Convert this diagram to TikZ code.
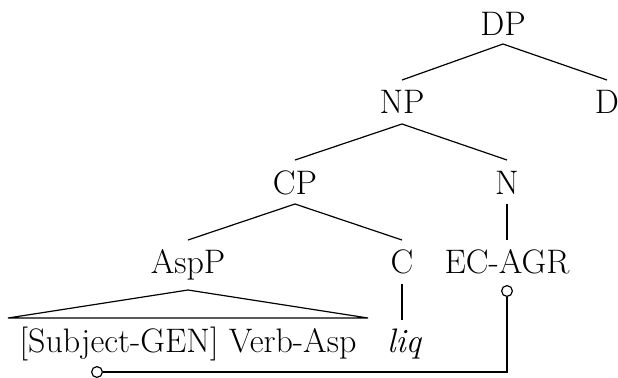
\documentclass[tikz,border=0pt]{standalone}
\begin{document}
\begin{tikzpicture}[x=0.5pt,y=-0.5pt,
  lab/.style={anchor=base,inner sep=0pt,font=\fontsize{17}{20}\selectfont},
  edge/.style={draw=black,line width=0.6pt},
  endcirc/.style={circle,draw=black,fill=white,line width=0.6pt,inner sep=0pt,minimum size=5.4pt}]
\useasboundingbox (0,0) rectangle (618,377);
% nodes
\node[lab] (DP) at (503,35) {DP};
\node[lab] (NP) at (402,113) {NP};
\node[lab] (D) at (607,113) {D};
\node[lab] (CP) at (295,194) {CP};
\node[lab] (N) at (507,194) {N};
\node[lab] (AspP) at (188,273) {AspP};
\node[lab] (C) at (402,273) {C};
\node[lab] (EC) at (507,273) {EC-AGR};
\node[lab] (SV) at (188,352) {[Subject-GEN] Verb-Asp};
\node[lab] (liq) at (404,352) {\itshape liq};
% tree connectors
\coordinate (DPb) at (503,44);
\coordinate (NPt) at (402,80);
\coordinate (Dt) at (607,80);
\coordinate (NPb) at (402,124);
\coordinate (CPt) at (295,160);
\coordinate (Nt) at (507,160);
\coordinate (CPb) at (295,204);
\coordinate (AspPt) at (188,240);
\coordinate (Ct) at (402,240);
\coordinate (Nb) at (507,204);
\coordinate (ECt) at (507,240);
\coordinate (AspPb) at (188,290);
\coordinate (triL) at (8,318);
\coordinate (triR) at (368,318);
\coordinate (Cb) at (402,284);
\coordinate (liqt) at (402,320);
\draw[edge] (DPb) -- (NPt);
\draw[edge] (DPb) -- (Dt);
\draw[edge] (NPb) -- (CPt);
\draw[edge] (NPb) -- (Nt);
\draw[edge] (CPb) -- (AspPt);
\draw[edge] (CPb) -- (Ct);
\draw[edge] (Nb) -- (ECt);
\draw[edge] (AspPb) -- (triL) -- (triR) -- cycle;
\draw[edge] (Cb) -- (liqt);
% binding connector
\node[endcirc] (ce) at (507,291) {};
\node[endcirc] (cs) at (97,372) {};
\coordinate (corner) at (507,372);
\draw[edge] (ce.south) -- (corner) -- (cs.east);
\end{tikzpicture}
\end{document}
